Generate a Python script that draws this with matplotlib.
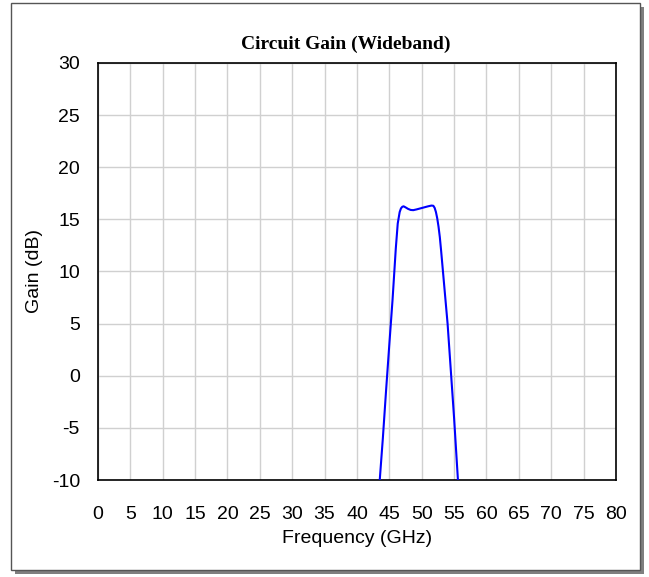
import matplotlib
matplotlib.use("Agg")
import matplotlib.pyplot as plt
from matplotlib.patches import Rectangle

# data (GHz, dB)
freq_ghz = [43.4, 44.0, 44.5, 45.0, 45.5, 46.0, 46.3, 46.6, 46.8, 47.0, 47.2,
            47.5, 47.9, 48.3, 48.7, 49.2, 49.8, 50.4, 51.0, 51.5, 51.8, 52.0,
            52.2, 52.4, 52.6, 52.8, 53.0, 53.5, 54.0, 54.5, 55.0, 55.7]
gain_db = [-11.0, -6.0, -1.4, 3.0, 7.3, 12.2, 14.6, 15.7, 16.05, 16.2, 16.25,
           16.15, 16.0, 15.9, 15.88, 15.95, 16.05, 16.15, 16.25, 16.32, 16.3, 16.1,
           15.7, 15.1, 14.3, 13.3, 12.0, 8.5, 5.0, 0.5, -4.0, -11.0]

x_ticks = list(range(0, 81, 5))
y_ticks = list(range(-10, 31, 5))

plt.rcParams["axes.unicode_minus"] = False
sans = ["Liberation Sans", "DejaVu Sans"]

fig = plt.figure(figsize=(6.49, 5.77), dpi=100)

# outer frame with drop shadow (behind the axes)
fig.patches.append(Rectangle((0.017 + 0.006, 0.012 - 0.007), 0.969, 0.983,
                             transform=fig.transFigure, facecolor="#7f7f7f",
                             edgecolor="none", zorder=-2))
fig.patches.append(Rectangle((0.017, 0.012), 0.969, 0.983,
                             transform=fig.transFigure, facecolor="white",
                             edgecolor="#555555", linewidth=1, zorder=-1))

ax = fig.add_axes([0.151, 0.168, 0.798, 0.723])
ax.plot(freq_ghz, gain_db, color="#0000ff", linewidth=1.5, zorder=3)

ax.set_xlim(0, 80)
ax.set_ylim(-10, 30)
ax.set_xticks(x_ticks)
ax.set_yticks(y_ticks)
ax.grid(True, color="#d0d0d0", linewidth=1)
ax.set_axisbelow(True)
ax.tick_params(length=0, labelsize=14)
ax.tick_params(axis="x", pad=19)
ax.tick_params(axis="y", pad=13)
for lab in ax.get_xticklabels() + ax.get_yticklabels():
    lab.set_family(sans)
for s in ax.spines.values():
    s.set_linewidth(1.2)
    s.set_color("black")

ax.set_xlabel("Frequency (GHz)", fontsize=14, family=sans)
ax.set_ylabel("Gain (dB)", fontsize=14, family=sans)
ax.xaxis.set_label_coords(0.5, -0.12)
ax.yaxis.set_label_coords(-0.106, 0.5)

fig.text(0.532, 0.924, "Circuit Gain (Wideband)", fontsize=14, fontweight="bold",
         family=["Liberation Serif", "DejaVu Serif"], ha="center", va="center")

fig.savefig("out.png", dpi=100)
